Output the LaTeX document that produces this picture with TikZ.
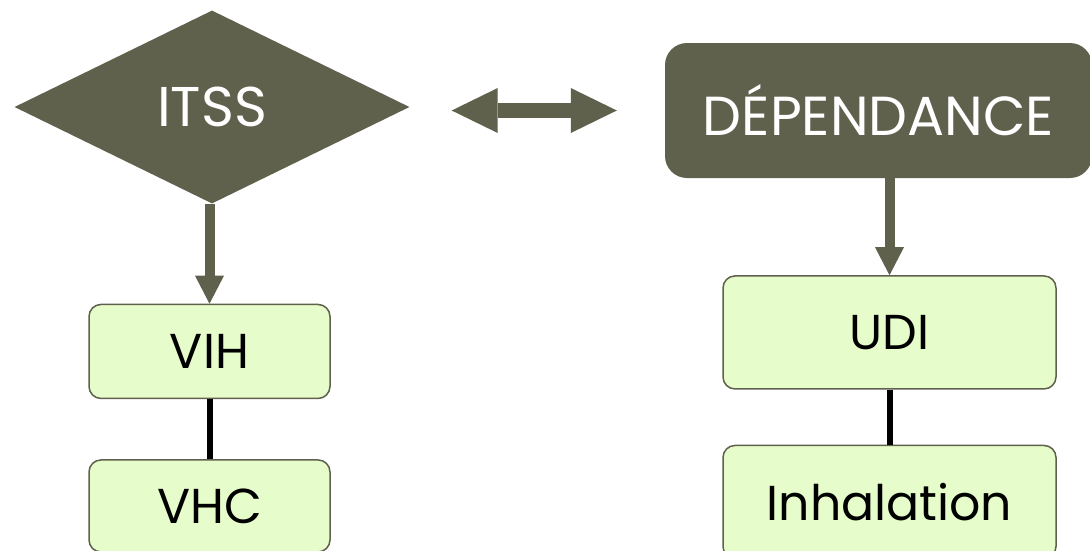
\documentclass[tikz,border=0pt]{standalone}
\usepackage{fontspec}
\setmainfont{Poppins}
\usepackage{xcolor}
\usetikzlibrary{shapes, arrows.meta, positioning}
\definecolor{olive}{HTML}{60614D}
\definecolor{palegreen}{HTML}{E6FCCA}

\begin{document}
\begin{tikzpicture}[x=1pt, y=-1pt,
                    theme/.style={diamond, fill=olive, text=white, inner sep=0pt, minimum width=395pt, minimum height=193pt, aspect=2.05, font=\fontsize{56}{60}\selectfont},
                    theme_box/.style={rectangle, fill=olive, text=white, rounded corners=22pt, inner sep=0pt, minimum width=427pt, minimum height=135pt, font=\fontsize{55}{60}\selectfont},
                    item/.style={rectangle, draw=olive, line width=1.5pt, fill=palegreen, rounded corners=12pt, inner sep=0pt, font=\fontsize{49}{54}\selectfont},
                    down_arrow/.style={line width=10pt, olive, -{Triangle[length=28pt, width=29pt, line width=0pt]}},
                    link_arrow/.style={line width=15pt, olive, {Triangle[length=46pt, width=45pt, line width=0pt]}-{Triangle[length=46pt, width=45pt, line width=0pt]}},
                    ]
    \useasboundingbox (0,0) rectangle (1090,550);

    % Left column
    \node[theme] (itss) at (212,107) {ITSS};
    \node[item, minimum width=241pt, minimum height=94pt, below=100pt of itss, xshift=-2.5pt] (vih) {VIH};
    \node[item, minimum width=241pt, minimum height=92pt, below=60pt of vih] (vhc) {VHC};

    % Right column
    \node[theme_box] (dependance) at (878.5,110.5) {DÉPENDANCE};
    \node[item, minimum width=333pt, minimum height=113pt, below=97pt of dependance, xshift=11pt] (udi) {UDI};
    \node[item, minimum width=333pt, minimum height=113pt, below=55pt of udi] (inhalation) {Inhalation};

    % Arrows
    \draw[link_arrow, shorten <=42pt, shorten >=48pt] (itss.east |- dependance.west) -- (dependance.west);
    \draw[down_arrow] (itss.south -| vih.north) -- (vih.north);
    \draw[down_arrow] (dependance.south -| udi.north) -- (udi.north);

    % Links
    \draw[line width=6pt] (vih) -- (vhc);
    \draw[line width=6pt] (udi) -- (inhalation);
\end{tikzpicture}
\end{document}
